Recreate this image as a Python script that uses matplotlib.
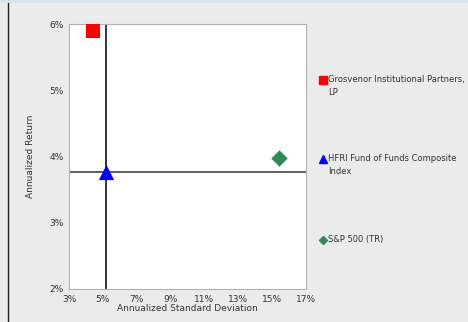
import matplotlib
matplotlib.use("Agg")
import matplotlib.pyplot as plt
from matplotlib.lines import Line2D

# Risk / return data (annualized, %)
names = ["Grosvenor Institutional Partners,\nLP", "HFRI Fund of Funds Composite\nIndex", "S&P 500 (TR)"]
std_dev = [4.4, 5.2, 15.4]
returns = [5.9, 3.76, 3.98]
colors = ["#ff0000", "#0000ff", "#2e8b57"]
markers = ["s", "^", "D"]
sizes = [100, 120, 70]

# Reference crosshair at the composite index
ref_x = 5.2
ref_y = 3.76

x_ticks = [3, 5, 7, 9, 11, 13, 15, 17]
y_ticks = [2, 3, 4, 5, 6]

W, H = 468, 322
fig = plt.figure(figsize=(W / 100, H / 100), dpi=100, facecolor="#ebebeb")
plt.rcParams["font.family"] = ["DejaVu Sans"]

ax = fig.add_axes([69 / W, 1 - 289 / H, (306 - 69) / W, (289 - 24) / H])
ax.set_facecolor("white")
ax.set_xlim(3, 17)
ax.set_ylim(2, 6)
ax.set_xticks(x_ticks)
ax.set_xticklabels([f"{v}%" for v in x_ticks])
ax.set_yticks(y_ticks)
ax.set_yticklabels([f"{v}%" for v in y_ticks])
ax.tick_params(length=0, labelsize=6.5, colors="#333333", pad=4)
for s in ax.spines.values():
    s.set_color("#b0b0b0")
    s.set_linewidth(0.8)

ax.axvline(ref_x, color="black", lw=1.1, zorder=2)
ax.axhline(ref_y, color="#333333", lw=1.1, zorder=2)

for x, y, c, m, sz in zip(std_dev, returns, colors, markers, sizes):
    ax.scatter([x], [y], s=sz, c=c, marker=m, linewidths=0, zorder=3)

ax.set_xlabel("Annualized Standard Deviation", fontsize=6.5, color="#333333", labelpad=0)
ax.set_ylabel("Annualized Return", fontsize=6.5, color="#333333", labelpad=10)

# Legend entries beside the plot
legend_y = [80, 159, 240]
leg_msize = [5.5, 5.5, 3.8]
for name, c, m, yy, ms in zip(names, colors, markers, legend_y, leg_msize):
    fig.add_artist(Line2D([323 / W], [1 - yy / H], marker=m, color=c, markersize=ms,
                          linestyle="none", transform=fig.transFigure))
    fig.text(328 / W, 1 - (yy - 5) / H, name, fontsize=6.0, color="#333333",
             va="top", ha="left", linespacing=1.5)

# Frame edges
fig.add_artist(Line2D([8 / W, 8 / W], [0, 1], color="#222222", lw=1.0, transform=fig.transFigure))
fig.add_artist(Line2D([0, 1], [1 - 1 / H, 1 - 1 / H], color="#d8e4f0", lw=2.0, transform=fig.transFigure))

fig.savefig("out.png", dpi=100, facecolor=fig.get_facecolor())
